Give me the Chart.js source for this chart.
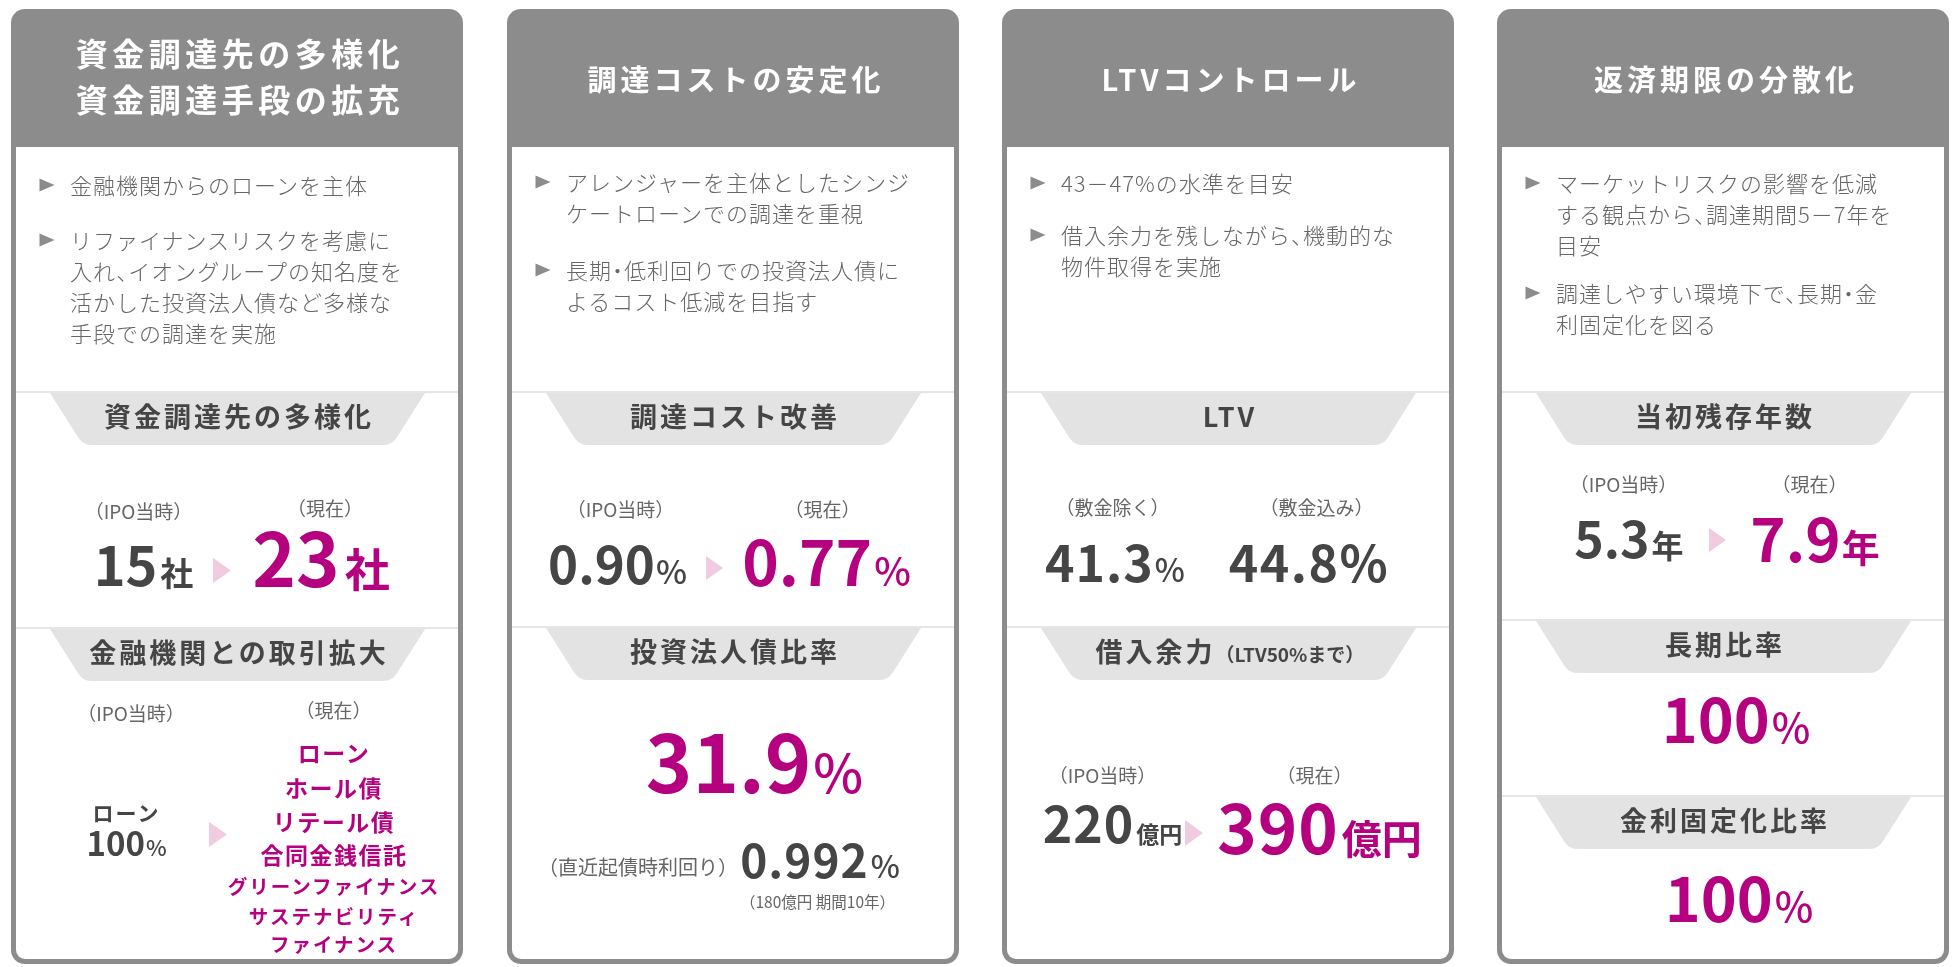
<!DOCTYPE html>
<html lang="ja">
<head>
<meta charset="utf-8">
<script src="https://cdn.jsdelivr.net/npm/chart.js@4.4.1/dist/chart.umd.min.js"></script>
<style>
html,body{margin:0;padding:0;background:#fff;width:1952px;height:967px;overflow:hidden;}
body{font-family:"Noto Sans CJK JP","Noto Sans",sans-serif;color:#444;}
#stage{position:relative;width:1952px;height:967px;}
#bg{position:absolute;left:0;top:0;z-index:0;}
#txt{position:absolute;left:0;top:0;width:1952px;height:967px;z-index:1;}
.t{position:absolute;white-space:nowrap;line-height:1;}
.pc{margin-right:-0.5em;}
.pm{margin:0 -0.25em;}
</style>
</head>
<body>
<div id="stage">
  <canvas id="bg" width="1952" height="967"></canvas>
  <div id="txt"></div>
</div>
<script>
// ---------------- data ----------------
const cardTitles = [["資金調達先の多様化","資金調達手段の拡充"],["調達コストの安定化"],["LTVコントロール"],["返済期限の分散化"]];
const policyBullets = [
  [["金融機関からのローンを主体"],["リファイナンスリスクを考慮に","入れ、イオングループの知名度を","活かした投資法人債など多様な","手段での調達を実施"]],
  [["アレンジャーを主体としたシンジ","ケートローンでの調達を重視"],["長期・低利回りでの投資法人債に","よるコスト低減を目指す"]],
  [["43－47%の水準を目安"],["借入余力を残しながら、機動的な","物件取得を実施"]],
  [["マーケットリスクの影響を低減","する観点から、調達期間5－7年を","目安"],["調達しやすい環境下で、長期・金","利固定化を図る"]]
];
const sectionTitles = [["資金調達先の多様化","金融機関との取引拡大"],["調達コスト改善","投資法人債比率"],["LTV","借入余力"],["当初残存年数","長期比率","金利固定化比率"]];
const capacityNote = "（LTV50%まで）";
const periodLabels = ["（IPO当時）","（現在）"];
const ltvLabels = ["（敷金除く）","（敷金込み）"];
const lenderCount = ["15","23"];
const lenderUnit = "社";
const loanShareAtIPO = ["ローン","100"];
const currentFundingMethods = ["ローン","ホール債","リテール債","合同金銭信託","グリーンファイナンス","サステナビリティ","ファイナンス"];
const fundingCost = ["0.90","0.77"];
const bondRatio = "31.9";
const bondYieldLabel = "（直近起債時利回り）";
const latestBondYield = "0.992";
const latestBondNote = "（180億円 期間10年）";
const ltvValues = ["41.3","44.8"];
const borrowingCapacity = ["220","390"];
const capacityUnit = "億円";
const remainingYears = ["5.3","7.9"];
const yearUnit = "年";
const longTermRatio = "100";
const fixedRateRatio = "100";

// ---------------- layout ----------------
const GRAY = "#8c8c8c", DARK = "#454545", MAG = "#b5007f", SUB = "#666666", PINK = "#f0cbe2";
const L = [11, 507, 1002, 1497];
const CARD = {top:9, w:452, h:955, border:5, headBottom:147, r:14};
const dividers = [[391,627],[391,626],[391,626],[391,619,795]];
const arrows = [[[202,220,558,583],[198,216,822,847]],[[199,216,556,580]],[[183,201,820,846]],[[212,229,528,552]]];
const bulletFirst = [[185,240],[182,270],[183,235],[183,293]];
const LH = 31;

const stage = document.getElementById('txt');
function punct(s){
  return s.replace(/、/g,'<span class="pc">、</span>').replace(/・/g,'<span class="pm">・</span>');
}
function el(css, html){
  const d = document.createElement('div'); d.className = 't';
  Object.assign(d.style, css); d.innerHTML = html; stage.appendChild(d); return d;
}
function centered(x, cy, html, size, style){
  return el(Object.assign({left:x+'px', top:(cy - 0.056*size)+'px', fontSize:size+'px', transform:'translate(-50%,-50%)'}, style||{}), html);
}
function valueRow(x, baseline, parts){
  const max = Math.max(...parts.map(p=>p.size));
  const d = el({left:x+'px', top:(baseline-0.936*max)+'px', transform:'translateX(-50%)', display:'flex', alignItems:'baseline'}, '');
  parts.forEach(p=>{
    const s = document.createElement('span'); s.textContent = p.t;
    Object.assign(s.style, {fontSize:p.size+'px', fontWeight:p.w||700, color:p.c, marginLeft:(p.ml||0)+'px', letterSpacing:(p.ls||0)+'px', lineHeight:1});
    d.appendChild(s);
  });
  return d;
}
const lab = {color:SUB, fontWeight:400};

// headers, bullets, banners
L.forEach((x,i)=>{
  const t = cardTitles[i];
  const two = t.length === 2;
  const ys = two ? [54,100] : [80];
  t.forEach((s,k)=>centered(x+229, ys[k], s, two?32:29, {color:'#fff', fontWeight:700, letterSpacing:(two?'4.5px':'4px')}));
  policyBullets[i].forEach((lines,k)=>{
    el({left:(x+59)+'px', top:(bulletFirst[i][k]-16.5)+'px', fontSize:'22px', lineHeight:LH+'px', color:SUB, fontWeight:300, letterSpacing:'1px'}, lines.map(punct).join('<br>'));
  });
  sectionTitles[i].forEach((s,k)=>{
    const top = dividers[i][k] + 2;
    let html = s;
    if (i===2 && k===1) html = s + '<span style="font-size:19px;letter-spacing:0">' + capacityNote + '</span>';
    centered(x+228, top+24, html, 27, {color:DARK, fontWeight:700, letterSpacing:'3px'});
  });
});

// card 1
let x = L[0];
centered(x+127.5, 511, periodLabels[0], 19, lab);
centered(x+314, 508, periodLabels[1], 19, lab);
valueRow(x+132.5, 587, [{t:lenderCount[0], size:54, c:DARK},{t:lenderUnit, size:33, c:DARK, ml:3}]);
valueRow(x+310, 587, [{t:lenderCount[1], size:74, c:MAG},{t:lenderUnit, size:45, c:MAG, ml:5}]);
centered(x+120, 713, periodLabels[0], 19, lab);
centered(x+322.5, 710, periodLabels[1], 19, lab);
centered(x+115.5, 813, loanShareAtIPO[0], 21, {color:DARK, fontWeight:700, letterSpacing:'2px'});
valueRow(x+115.5, 857, [{t:loanShareAtIPO[1], size:33, c:DARK},{t:"%", size:22, c:DARK, w:500, ml:1}]);
const listY = [753,788,822,855,887,917,945];
currentFundingMethods.forEach((s,k)=>{
  const big = k < 4;
  centered(x+323, listY[k], s, big?23:19.5, {color:MAG, fontWeight:700, letterSpacing:(big?'1.5px':'2px')});
});

// card 2
x = L[1];
centered(x+113.5, 509, periodLabels[0], 19, lab);
centered(x+315.5, 509, periodLabels[1], 19, lab);
valueRow(x+110.5, 585, [{t:fundingCost[0], size:51, c:DARK},{t:"%", size:33, c:DARK, w:500, ml:1}]);
valueRow(x+319.5, 586, [{t:fundingCost[1], size:62, c:MAG},{t:"%", size:39, c:MAG, w:500, ml:2}]);
valueRow(x+247.5, 793, [{t:bondRatio, size:79, c:MAG},{t:"%", size:53, c:MAG, w:500, ml:2}]);
centered(x+131, 868, bondYieldLabel, 20, lab);
valueRow(x+313, 878, [{t:latestBondYield, size:46, c:DARK, ls:1},{t:"%", size:31, c:DARK, w:500, ml:2}]);
centered(x+310.5, 903, latestBondNote, 15.5, lab);

// card 3
x = L[2];
centered(x+110.5, 507, ltvLabels[0], 19, lab);
centered(x+314.5, 507, ltvLabels[1], 19, lab);
valueRow(x+113, 582, [{t:ltvValues[0], size:50, c:DARK, ls:1},{t:"%", size:32, c:DARK, w:500, ml:1}]);
valueRow(x+307, 582, [{t:ltvValues[1]+"%", size:50, c:DARK, ls:1.5}]);
centered(x+100.5, 775, periodLabels[0], 19, lab);
centered(x+312.5, 775, periodLabels[1], 19, lab);
valueRow(x+110.5, 843, [{t:borrowingCapacity[0], size:50, c:DARK, ls:1},{t:capacityUnit, size:23, c:DARK, ml:2}]);
valueRow(x+317.5, 854, [{t:borrowingCapacity[1], size:67, c:MAG, ls:1},{t:capacityUnit, size:40, c:MAG, ml:3}]);

// card 4
x = L[3];
centered(x+126.5, 484, periodLabels[0], 19, lab);
centered(x+312.5, 484, periodLabels[1], 19, lab);
valueRow(x+132, 558, [{t:remainingYears[0], size:50, c:DARK},{t:yearUnit, size:32, c:DARK, ml:2}]);
valueRow(x+318, 562, [{t:remainingYears[1], size:60, c:MAG},{t:yearUnit, size:38, c:MAG, ml:1}]);
valueRow(x+239, 743, [{t:longTermRatio, size:61, c:MAG},{t:"%", size:41, c:MAG, w:500, ml:2}]);
valueRow(x+242, 922, [{t:fixedRateRatio, size:61, c:MAG},{t:"%", size:41, c:MAG, w:500, ml:2}]);

// ---------------- shapes drawn by Chart.js plugin ----------------
function rrect(ctx, x, y, w, h, r){
  ctx.beginPath();
  ctx.moveTo(x+r, y); ctx.lineTo(x+w-r, y); ctx.arcTo(x+w, y, x+w, y+r, r);
  ctx.lineTo(x+w, y+h-r); ctx.arcTo(x+w, y+h, x+w-r, y+h, r);
  ctx.lineTo(x+r, y+h); ctx.arcTo(x, y+h, x, y+h-r, r);
  ctx.lineTo(x, y+r); ctx.arcTo(x, y, x+r, y, r); ctx.closePath();
}
function innerBody(ctx, x, y, w, h, r){
  ctx.beginPath();
  ctx.moveTo(x, y); ctx.lineTo(x+w, y); ctx.lineTo(x+w, y+h-r);
  ctx.arcTo(x+w, y+h, x+w-r, y+h, r); ctx.lineTo(x+r, y+h);
  ctx.arcTo(x, y+h, x, y+h-r, r); ctx.closePath();
}
function bannerShape(ctx, x, t){
  ctx.beginPath();
  ctx.moveTo(x+39, t); ctx.lineTo(x+414, t);
  ctx.lineTo(x+386.1, t+44); ctx.quadraticCurveTo(x+381, t+52, x+373, t+52);
  ctx.lineTo(x+80, t+52); ctx.quadraticCurveTo(x+72, t+52, x+66.9, t+44);
  ctx.closePath();
  ctx.fillStyle = '#e3e3e3'; ctx.fill();
}
function tri(ctx, x0, x1, y0, y1, color){
  ctx.beginPath(); ctx.moveTo(x0, y0); ctx.lineTo(x1, (y0+y1)/2); ctx.lineTo(x0, y1); ctx.closePath();
  ctx.fillStyle = color; ctx.fill();
}
const shapesPlugin = {
  id: 'infographicShapes',
  beforeDraw(chart){
    const ctx = chart.ctx;
    ctx.save();
    L.forEach((cx,i)=>{
      ctx.fillStyle = GRAY;
      rrect(ctx, cx, CARD.top, CARD.w, CARD.h, CARD.r); ctx.fill();
      const ix = cx + CARD.border, iw = CARD.w - 2*CARD.border;
      const ih = CARD.top + CARD.h - CARD.border - CARD.headBottom;
      ctx.fillStyle = '#fff';
      innerBody(ctx, ix, CARD.headBottom, iw, ih, 9); ctx.fill();
      dividers[i].forEach(y=>{
        ctx.fillStyle = '#e6e6e6'; ctx.fillRect(ix, y, iw, 2);
        bannerShape(ctx, cx, y+2);
      });
      policyBullets[i].forEach((lines,k)=>{
        const cy = bulletFirst[i][k];
        tri(ctx, cx+28.5, cx+43.5, cy-6.5, cy+6.5, GRAY);
      });
      arrows[i].forEach(a=>tri(ctx, cx+a[0], cx+a[1], a[2], a[3], PINK));
    });
    ctx.restore();
  }
};
new Chart(document.getElementById('bg'), {
  type: 'scatter',
  data: { datasets: [] },
  options: {
    responsive: false, animation: false, events: [],
    plugins: { legend: {display:false}, tooltip: {enabled:false} },
    scales: { x: {display:false}, y: {display:false} }
  },
  plugins: [shapesPlugin]
});
</script>
</body>
</html>
